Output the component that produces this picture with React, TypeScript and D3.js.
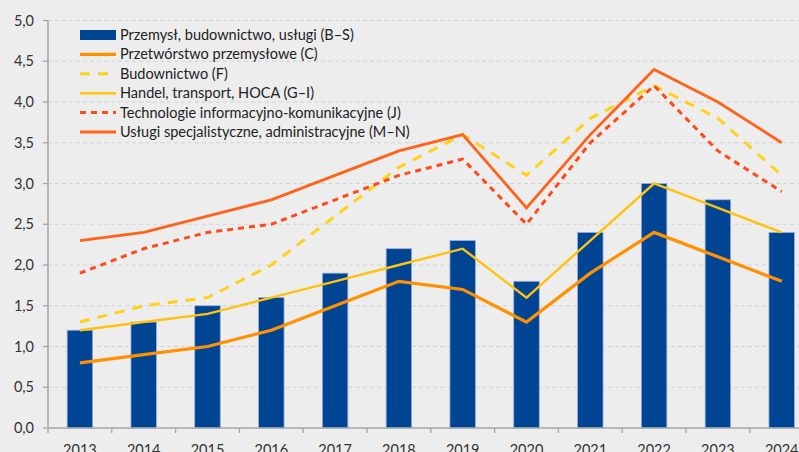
import React from "react";
import * as d3 from "d3";

const years = ["2013","2014","2015","2016","2017","2018","2019","2020","2021","2022","2023","2024"];
const barBS = [1.2,1.3,1.5,1.6,1.9,2.2,2.3,1.8,2.4,3.0,2.8,2.4];
const lineC = [0.8,0.9,1.0,1.2,1.5,1.8,1.7,1.3,1.9,2.4,2.1,1.8];
const lineF = [1.3,1.5,1.6,2.0,2.6,3.2,3.6,3.1,3.8,4.2,3.8,3.1];
const lineGI = [1.2,1.3,1.4,1.6,1.8,2.0,2.2,1.6,2.3,3.0,2.7,2.4];
const lineJ = [1.9,2.2,2.4,2.5,2.8,3.1,3.3,2.5,3.5,4.2,3.4,2.9];
const lineMN = [2.3,2.4,2.6,2.8,3.1,3.4,3.6,2.7,3.6,4.4,4.0,3.5];
const yTicks = [0,0.5,1,1.5,2,2.5,3,3.5,4,4.5,5];

const labelBS = "Przemysł, budownictwo, usługi (B–S)";
const series = [
  { name: "Przetwórstwo przemysłowe (C)", values: lineC, color: "#FF9000", dash: "" },
  { name: "Budownictwo (F)", values: lineF, color: "#FFD21A", dash: "10,8" },
  { name: "Handel, transport, HOCA (G–I)", values: lineGI, color: "#FFC20E", dash: "" },
  { name: "Technologie informacyjno-komunikacyjne (J)", values: lineJ, color: "#FF4A1A", dash: "6,5" },
  { name: "Usługi specjalistyczne, administracyjne (M–N)", values: lineMN, color: "#FF6218", dash: "" },
];
const drawOrder = [0, 2, 1, 3, 4];
const lineWidths = [3.2, 3, 2.4, 3, 2.8];

export default function App() {
  const W = 799, H = 452;
  const x0 = 48, bandW = 63.8;
  const x = d3.scaleBand<string>().domain(years).range([x0, x0 + bandW * years.length]).paddingInner(0.6).paddingOuter(0.3);
  const y = d3.scaleLinear().domain([0, 5]).range([428, 20.5]);
  const cx = (i: number) => (x(years[i]) as number) + x.bandwidth() / 2;
  const line = d3.line<number>().x((_, i) => cx(i)).y((v) => y(v));
  const font = "Lato, 'Open Sans', sans-serif";
  const bandStep = bandW;
  const legendX = 80, legendY0 = 35, legendDY = 19.4;

  return (
    <svg width={W} height={H} style={{ display: "block", position: "absolute", left: 0, top: 0, background: "#EDEDED" }} fontFamily={font}>
      <rect x={0} y={0} width={W} height={H} fill="#EDEDED" />
      {yTicks.map((t) => (
        <g key={t}>
          {t > 0 && <line x1={x0} x2={W} y1={y(t)} y2={y(t)} stroke="#D2D2D2" strokeWidth={1} strokeDasharray="4,3" />}
          <line x1={x0 - 5} x2={x0} y1={y(t)} y2={y(t)} stroke="#A6A6A6" strokeWidth={1.3} />
          <text x={34} y={y(t) + 5} textAnchor="end" fontSize={14.5} fill="#333">{d3.format(".1f")(t).replace(".", ",")}</text>
        </g>
      ))}
      {barBS.map((v, i) => (
        <rect key={i} x={x(years[i])} y={y(v)} width={x.bandwidth()} height={y(0) - y(v)} fill="#004494" stroke="#9DB1D4" strokeWidth={0.8} />
      ))}
      {drawOrder.map((k) => {
        const s = series[k];
        return (
          <path key={s.name} d={line(s.values) || ""} fill="none" stroke={s.color} strokeWidth={lineWidths[k]} strokeDasharray={s.dash} strokeLinejoin="miter" />
        );
      })}
      <line x1={x0} x2={x0} y1={y(5)} y2={y(0)} stroke="#A6A6A6" strokeWidth={1.5} />
      <line x1={x0} x2={W} y1={y(0)} y2={y(0)} stroke="#A6A6A6" strokeWidth={1.5} />
      {years.map((yr, i) => (
        <g key={yr}>
          <line x1={x0 + i * bandStep} x2={x0 + i * bandStep} y1={y(0)} y2={y(0) + 5} stroke="#A6A6A6" strokeWidth={1.3} />
          <text x={cx(i)} y={455} textAnchor="middle" fontSize={14.5} fill="#333">{yr}</text>
        </g>
      ))}
      <g>
        <rect x={legendX} y={legendY0 - 5} width={36} height={10} fill="#004494" />
        <text x={legendX + 40} y={legendY0 + 5} fontSize={14.5} fill="#222">{labelBS}</text>
        {series.map((s, k) => {
          const ly = legendY0 + (k + 1) * legendDY;
          return (
            <g key={s.name}>
              <line x1={legendX} x2={legendX + 36} y1={ly} y2={ly} stroke={s.color} strokeWidth={lineWidths[k]} strokeDasharray={s.dash} />
              <text x={legendX + 40} y={ly + 5} fontSize={14.5} fill="#222">{s.name}</text>
            </g>
          );
        })}
      </g>
    </svg>
  );
}
